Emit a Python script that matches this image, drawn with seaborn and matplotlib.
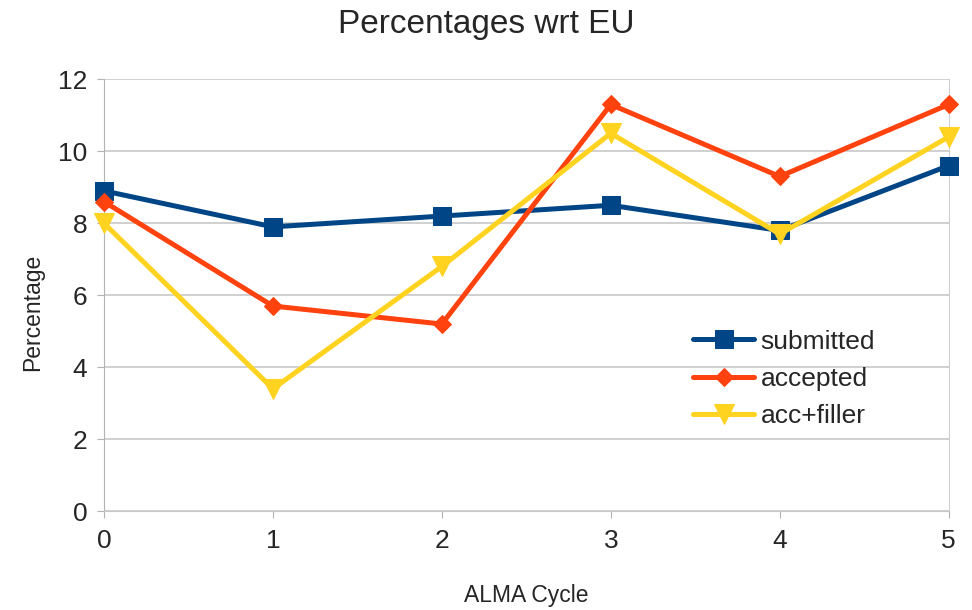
import pandas as pd
import numpy as np
import matplotlib
matplotlib.use('Agg')
import matplotlib.pyplot as plt
import seaborn as sns

# ─── Data ──────────────────────────────────────────────────────────────────
cycles = [0, 1, 2, 3, 4, 5]
submitted = [8.9, 7.9, 8.2, 8.5, 7.8, 9.6]
accepted = [8.6, 5.7, 5.2, 11.3, 9.3, 11.3]
acc_filler = [8.0, 3.4, 6.8, 10.5, 7.7, 10.4]
series_names = ['submitted', 'accepted', 'acc+filler']

df = pd.DataFrame({
    'cycle': cycles * 3,
    'value': submitted + accepted + acc_filler,
    'series': np.repeat(series_names, len(cycles)),
})

palette = {'submitted': '#004586', 'accepted': '#ff420e', 'acc+filler': '#ffd320'}
markers = {'submitted': 's', 'accepted': 'D', 'acc+filler': 'v'}
msize = {'submitted': 13, 'accepted': 9.5, 'acc+filler': 14}

# ─── Plot ──────────────────────────────────────────────────────────────────
sns.set_style('white')
plt.rcParams['font.family'] = ['Liberation Sans', 'DejaVu Sans']

fig = plt.figure(figsize=(9.72, 6.1), dpi=100)
ax = fig.add_axes([0.107, 0.162, 0.869, 0.708])

for name in series_names:
    sub = df[df['series'] == name]
    sns.lineplot(data=sub, x='cycle', y='value', ax=ax, color=palette[name],
                 marker=markers[name], markersize=msize[name],
                 markeredgecolor=palette[name], linewidth=3.6, label=name,
                 clip_on=False, zorder=3)

ax.set_xlim(0, 5)
ax.set_ylim(0, 12)
ax.set_xticks(cycles)
ax.set_yticks(range(0, 13, 2))
ax.yaxis.grid(True, color='#c8c8c8', linewidth=1.2)
ax.set_axisbelow(True)
ax.spines['top'].set_visible(False)
ax.spines['left'].set_color('#b3b3b3')
ax.spines['right'].set_color('#d0d0d0')
ax.spines['bottom'].set_color('#c8c8c8')
ax.tick_params(axis='both', labelsize=19, length=5, color='#b3b3b3',
               direction='out', left=True, bottom=True)
ax.tick_params(axis='x', pad=8)
ax.tick_params(axis='y', pad=7)

ax.set_xlabel('ALMA Cycle', fontsize=16.5, labelpad=22)
ax.set_ylabel('Percentage', fontsize=16.5)
ax.yaxis.set_label_coords(-0.071, 0.46)
fig.suptitle('Percentages wrt EU', fontsize=24, y=0.985)

leg = ax.legend(loc='upper left', bbox_to_anchor=(0.685, 0.445), frameon=False,
                fontsize=19, handlelength=2.3, labelspacing=0.5,
                handletextpad=0.25, borderaxespad=0)

fig.savefig('out.png', dpi=100)
